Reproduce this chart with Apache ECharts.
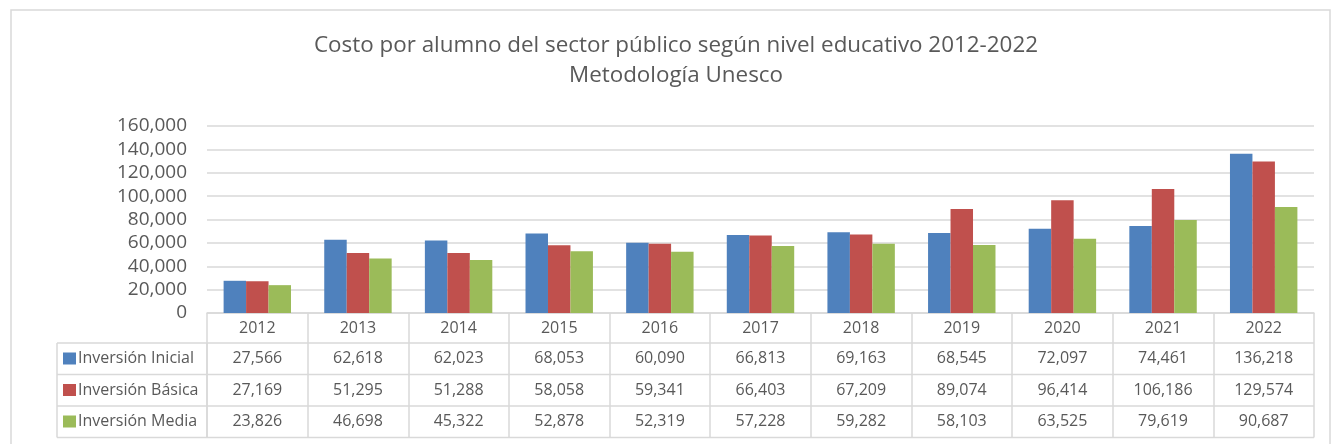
<!DOCTYPE html>
<html>
<head>
<meta charset="utf-8">
<script src="https://cdn.jsdelivr.net/npm/echarts@6/dist/echarts.min.js"></script>
<style>
  html, body { margin: 0; padding: 0; background: #fff; }
  #chart { width: 1331px; height: 444px; }
</style>
</head>
<body>
<div id="chart"></div>
<script>
// data
const years = ['2012', '2013', '2014', '2015', '2016', '2017', '2018', '2019', '2020', '2021', '2022'];
const inicial = [27566, 62618, 62023, 68053, 60090, 66813, 69163, 68545, 72097, 74461, 136218];
const basica = [27169, 51295, 51288, 58058, 59341, 66403, 67209, 89074, 96414, 106186, 129574];
const media = [23826, 46698, 45322, 52878, 52319, 57228, 59282, 58103, 63525, 79619, 90687];
const seriesNames = ['Inversión Inicial', 'Inversión Básica', 'Inversión Media'];
const yMin = 0, yMax = 160000, yStep = 20000;

const rows = [inicial, basica, media];
const colors = ['#4F81BD', '#C0504D', '#9BBB59'];
const textColor = '#595959';
const lineColor = '#d9d9d9';
const font = '"Open Sans", sans-serif';

// layout
const W = 1331, H = 444;
const gridLeft = 207, gridRight = 17, gridTop = 126, gridBottom = 131;
const y0 = H - gridBottom;             // baseline of the plot = top of table
const rowEdges = [0, 30, 61.5, 93, 124.5]; // offsets below baseline
const legendLeft = 57;

const fmt = v => v.toLocaleString('en-US');

const chart = echarts.init(document.getElementById('chart'));

const rowAxes = rows.map((data, k) => ({
  type: 'category',
  gridIndex: 0,
  position: 'bottom',
  offset: rowEdges[k + 1],
  data: years,
  axisLine: { show: false },
  axisTick: {
    show: true,
    interval: 0,
    length: rowEdges[k + 2] - rowEdges[k + 1],
    lineStyle: { color: lineColor, width: 1.5 }
  },
  axisLabel: {
    interval: 0,
    margin: (rowEdges[k + 2] - rowEdges[k + 1]) / 2,
    verticalAlign: 'middle',
    color: textColor,
    fontFamily: font,
    fontSize: 16,
    formatter: (v, i) => fmt(data[i])
  },
  splitLine: { show: false }
}));

// extra table lines (legend column + row separators)
const tableLines = [];
for (let k = 1; k < rowEdges.length; k++) {
  tableLines.push({
    type: 'line',
    shape: { x1: legendLeft, y1: y0 + rowEdges[k], x2: W - gridRight, y2: y0 + rowEdges[k] },
    style: { stroke: lineColor, lineWidth: 1.5 }
  });
}
[legendLeft, gridLeft].forEach(x => {
  tableLines.push({
    type: 'line',
    shape: { x1: x, y1: y0 + rowEdges[1], x2: x, y2: y0 + rowEdges[4] },
    style: { stroke: lineColor, lineWidth: 1.5 }
  });
});

const option = {
  animation: false,
  color: colors,
  title: {
    text: 'Costo por alumno del sector público según nivel educativo 2012-2022\nMetodología Unesco',
    left: 676,
    top: 31,
    padding: 0,
    textAlign: 'center',
    textStyle: {
      color: textColor,
      fontFamily: font,
      fontSize: 22.4,
      fontWeight: 'normal',
      lineHeight: 30
    }
  },
  legend: {
    orient: 'vertical',
    left: legendLeft + 6,
    top: y0 + rowEdges[1] + 5.5,
    padding: 0,
    itemWidth: 13,
    itemHeight: 12,
    itemGap: 11.5,
    icon: 'rect',
    selectedMode: false,
    textStyle: { color: textColor, fontFamily: font, fontSize: 16, lineHeight: 20, padding: [0, 0, 0, -3] },
    data: seriesNames
  },
  grid: { left: gridLeft, right: gridRight, top: gridTop, bottom: gridBottom },
  xAxis: [{
    type: 'category',
    position: 'bottom',
    data: years,
    axisLine: { show: true, lineStyle: { color: lineColor, width: 1.5 } },
    axisTick: { show: true, interval: 0, length: rowEdges[1], lineStyle: { color: lineColor, width: 1.5 } },
    axisLabel: {
      interval: 0,
      margin: rowEdges[1] / 2,
      verticalAlign: 'middle',
      color: textColor,
      fontFamily: font,
      fontSize: 16
    },
    splitLine: { show: false }
  }].concat(rowAxes),
  yAxis: {
    type: 'value',
    min: yMin,
    max: yMax,
    interval: yStep,
    axisLine: { show: false },
    axisTick: { show: false },
    axisLabel: {
      margin: 20,
      color: textColor,
      fontFamily: font,
      fontSize: 19,
      formatter: v => fmt(v)
    },
    splitLine: { lineStyle: { color: lineColor, width: 1.5 } }
  },
  graphic: [{
    type: 'rect',
    shape: { x: 11, y: 10, width: 1319, height: 460 },
    style: { fill: 'none', stroke: lineColor, lineWidth: 1.5 },
    silent: true
  }].concat(tableLines),
  series: rows.map((data, k) => ({
    name: seriesNames[k],
    type: 'bar',
    data: data,
    barGap: '0%',
    barCategoryGap: '33%',
    itemStyle: { color: colors[k] }
  }))
};

chart.setOption(option);
</script>
</body>
</html>
